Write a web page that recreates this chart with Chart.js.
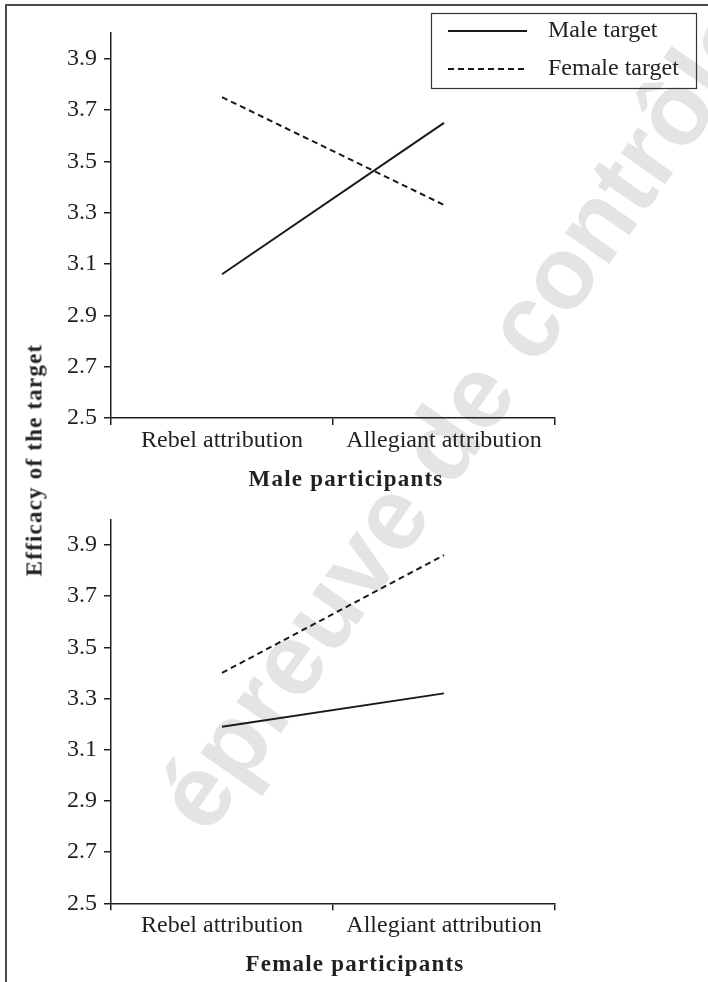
<!DOCTYPE html>
<html>
<head>
<meta charset="utf-8">
<script src="https://cdn.jsdelivr.net/npm/chart.js@4.4.1/dist/chart.umd.min.js"></script>
<style>
  html, body { margin: 0; padding: 0; background: #fff; }
  #wrap { position: relative; width: 708px; height: 982px; overflow: hidden;
          font-family: "Liberation Serif", "Times New Roman", serif; color: #231f20; }
  .frame-top  { position: absolute; left: 5px; top: 4px; width: 703px; height: 2px; background: #4a4a4a; }
  .frame-left { position: absolute; left: 5px; top: 4px; width: 2px; height: 978px; background: #4a4a4a; }
  .mark { position: absolute; left: 460px; top: 416px; transform: translate(-50%, -50%) rotate(-55deg);
          white-space: nowrap; font: bold 102px "Liberation Sans", Arial, sans-serif; line-height: 1;
          letter-spacing: 0.5px; color: #e4e4e4; }
  canvas { position: absolute; left: 0; }
  #c1 { top: 0; }
  #c2 { top: 495px; }
  .label { position: absolute; white-space: nowrap; font-weight: bold; font-size: 23px;
           letter-spacing: 1.2px; line-height: 1; transform: translate(-50%, -50%); }
  #ytitle { left: 34px; top: 460px; transform: translate(-50%, -50%) rotate(-90deg); }
  #t1 { left: 346px; top: 478px; }
  #t2 { left: 355px; top: 963px; }
</style>
</head>
<body>
<div id="wrap">
  <div class="mark">épreuve de contrôle</div>
  <div class="frame-top"></div>
  <div class="frame-left"></div>
  <canvas id="c1" width="708" height="495"></canvas>
  <canvas id="c2" width="708" height="487"></canvas>
  <div class="label" id="ytitle">Efficacy of the target</div>
  <div class="label" id="t1">Male participants</div>
  <div class="label" id="t2">Female participants</div>
</div>
<script>
// ── Data ───────────────────────────────────────────────────────
const categories   = ['Rebel attribution', 'Allegiant attribution'];
const seriesNames  = ['Male target', 'Female target'];
const yTicks       = [2.5, 2.7, 2.9, 3.1, 3.3, 3.5, 3.7, 3.9];

// male participants panel
const maleP_maleTarget   = [3.06, 3.65];
const maleP_femaleTarget = [3.75, 3.33];
// female participants panel
const femaleP_maleTarget   = [3.19, 3.32];
const femaleP_femaleTarget = [3.40, 3.86];

// ── Style ──────────────────────────────────────────────────────
const INK   = '#231f20';
const LINE  = '#1a1a1a';
const DASH  = [6, 4];
const FONT  = { family: '"Liberation Serif", "Times New Roman", serif', size: 24 };

// legend drawn as a framed box, like the original figure
const boxLegend = {
  id: 'boxLegend',
  afterDraw(chart, args, opts) {
    if (!opts.show) return;
    const { ctx } = chart;
    ctx.save();
    ctx.strokeStyle = '#333';
    ctx.lineWidth = 1.2;
    ctx.strokeRect(opts.x + 0.5, opts.y + 0.5, opts.w, opts.h);
    ctx.font = `${FONT.size}px ${FONT.family}`;
    ctx.textBaseline = 'middle';
    chart.data.datasets.forEach((ds, i) => {
      const y = opts.y + 18 + i * 38;
      ctx.strokeStyle = ds.borderColor;
      ctx.lineWidth = ds.borderWidth;
      ctx.setLineDash(ds.borderDash || []);
      ctx.beginPath();
      ctx.moveTo(opts.x + 17, y);
      ctx.lineTo(opts.x + 96, y);
      ctx.stroke();
      ctx.setLineDash([]);
      ctx.fillStyle = INK;
      ctx.fillText(ds.label, opts.x + 117, y);
    });
    ctx.restore();
  },
};

function makeChart(id, male, female, padTop, xHeight, showLegend) {
  return new Chart(document.getElementById(id), {
    type: 'line',
    data: {
      labels: categories,
      datasets: [
        { label: seriesNames[0], data: male,   borderColor: LINE, borderWidth: 2, pointRadius: 0, fill: false },
        { label: seriesNames[1], data: female, borderColor: LINE, borderWidth: 2, pointRadius: 0, fill: false, borderDash: DASH },
      ],
    },
    options: {
      responsive: false,
      animation: false,
      layout: { padding: { top: padTop, right: 153, bottom: 0, left: 0 } },
      plugins: {
        legend: { display: false },
        tooltip: { enabled: false },
        boxLegend: { show: showLegend, x: 431, y: 13, w: 265, h: 75 },
      },
      scales: {
        x: {
          type: 'category',
          offset: true,
          grid: { offset: true, drawOnChartArea: false, tickLength: 7, color: INK, lineWidth: 1.5 },
          border: { display: true, color: INK, width: 1.5 },
          ticks: { color: INK, font: FONT, padding: 1, maxRotation: 0 },
          afterFit: s => { s.height = xHeight; },
        },
        y: {
          min: 2.5,
          max: 4.0,
          afterBuildTicks: s => { s.ticks = yTicks.map(v => ({ value: v })); },
          grid: { drawOnChartArea: false, tickLength: 7, color: INK, lineWidth: 1.5 },
          border: { display: true, color: INK, width: 1.5 },
          ticks: { color: INK, font: FONT, padding: 7, callback: v => Number(v).toFixed(1) },
          afterFit: s => { s.width = 111; },
        },
      },
    },
    plugins: [boxLegend],
  });
}

makeChart('c1', maleP_maleTarget,   maleP_femaleTarget,   33,   77,   true);
makeChart('c2', femaleP_maleTarget, femaleP_femaleTarget, 24.3, 78.7, false);
</script>
</body>
</html>
